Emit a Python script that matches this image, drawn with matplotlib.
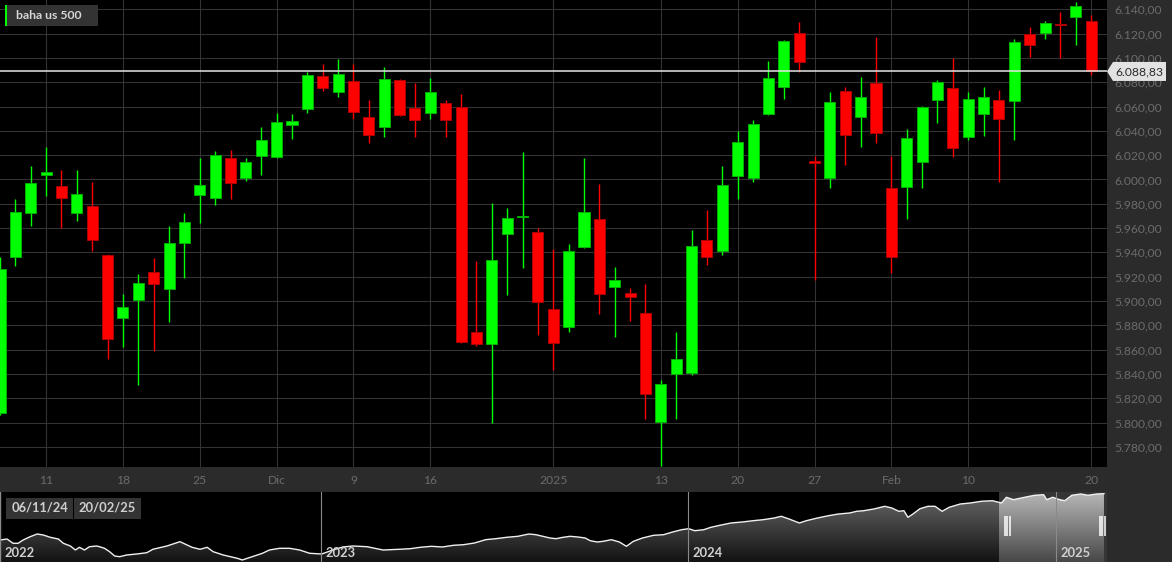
import matplotlib
matplotlib.use("Agg")
import matplotlib.pyplot as plt
import matplotlib.dates as mdates
import matplotlib.transforms as mtransforms
from matplotlib.patches import Rectangle, Polygon
from matplotlib.colors import LinearSegmentedColormap
from matplotlib.ticker import FuncFormatter
import numpy as np
import pandas as pd

plt.rcParams['font.family'] = ['Lato', 'DejaVu Sans']

# ---------------- data ----------------
title = "baha us 500"
opens = [5808, 5936.5, 5972, 6004, 5995, 5972, 5978.5, 5938, 5886, 5901, 5924, 5910, 5948, 5987,
         5984.5, 6017.7, 6001.5, 6019.3, 6018.5, 6045, 6058, 6085.4, 6072.2, 6080.8, 6051.4, 6043.2,
         6081.8, 6058.6, 6055, 6062.7, 6059.4, 5874.3, 5864.5, 5954.9, 5968.8, 5956.6, 5893.5, 5879,
         5944.7, 5967.5, 5911.8, 5906.6, 5890.2, 5800.6, 5840, 5841.1, 5950.5, 5941.2, 6003.1, 6001.2,
         6054.1, 6076.3, 6120.3, 6015, 6001, 6073, 6051.7, 6079.4, 5992.8, 5994.1, 6014.2, 6065.6,
         6075.3, 6035, 6054.1, 6065.6, 6064.8, 6119.9, 6120.5, 6127.5, 6133.4, 6130.6]
highs = [5936, 5984, 6011, 6027, 6008, 6008, 5998, 5939, 5906, 5922, 5935, 5961.5, 5972, 6018,
         6023.5, 6024.3, 6017.4, 6042.9, 6054.5, 6053.6, 6088, 6095, 6099, 6094.8, 6065.4, 6092.3,
         6082.5, 6079.1, 6083.2, 6065.4, 6070.1, 5933, 5980.4, 5976.3, 6022.4, 5959.9, 5942.6, 5947,
         6017.4, 5996.3, 5927.8, 5910.5, 5913.8, 5835.1, 5874.3, 5958.5, 5974.7, 6011.4, 6039.9, 6049,
         6097.5, 6114.7, 6129.3, 6019.6, 6071.7, 6075.8, 6084.1, 6117, 6019.6, 6041.3, 6060.5, 6081.8,
         6100.2, 6071.7, 6075.8, 6073.6, 6115.3, 6125.2, 6130.6, 6137.5, 6145.8, 6135.3]
lows = [5806, 5929, 5962, 5986, 5960, 5966, 5941, 5852, 5862, 5831, 5859, 5883, 5919, 5964,
        5979, 5983.7, 5999, 6003.5, 6018, 6033.6, 6055, 6073, 6067.6, 6049.5, 6029.8, 6035.2,
        6052.5, 6034.7, 6049.5, 6034.7, 5865.5, 5863.3, 5800, 5904.8, 5927, 5871.9, 5843, 5874.8,
        5943.4, 5889.1, 5870.7, 5883.9, 5803.3, 5764.4, 5802.8, 5839, 5929.7, 5937.9, 5983.7, 5998.2,
        6053.1, 6066, 6088.7, 5917.4, 5992.8, 6011.9, 6027, 6029.8, 5923.4, 5967.3, 5992.8, 6046.2,
        6018.8, 6032.5, 6036, 5998.2, 6032.5, 6100.5, 6115.3, 6099.7, 6110.6, 6086]
closes = [5926, 5973, 5997, 6006, 5985, 5988, 5950, 5869, 5895, 5915, 5914, 5947.5, 5965, 5995.5,
          6020, 5997.4, 6014.7, 6032.5, 6047.3, 6048, 6085.7, 6075.5, 6086.8, 6055.8, 6036.4, 6082.7,
          6053.1, 6048.7, 6072.2, 6049, 5866.1, 5865, 5933.8, 5968.3, 5969.5, 5899, 5865.8, 5941,
          5973, 5906.1, 5917.4, 5903.1, 5823.8, 5831.8, 5852.4, 5945.3, 5936, 5995.5, 6031.1, 6045.4,
          6083.5, 6113.7, 6096.9, 6013.5, 6063.5, 6036.6, 6068.1, 6038.5, 5936, 6034.4, 6059.4, 6080,
          6026.2, 6066.2, 6067.9, 6050, 6112.9, 6110.9, 6129, 6126.8, 6143, 6088.83]
last_price = 6088.83

x_tick_idx = [3, 8, 13, 18, 23, 28, 36, 43, 48, 53, 58, 63, 71]
x_tick_labels = ['11', '18', '25', 'Dic', '9', '16', '2025', '13', '20', '27', 'Feb', '10', '20']

# navigator (overview) series: days since nav_start, approx index level
nav_start = '2022-02-16'
nav_days = [0, 7, 13, 18, 23, 30, 37, 43, 50, 58, 63, 70, 75, 79, 84, 89, 96, 99, 104, 109,
            114, 119, 126, 136, 146, 152, 159, 166, 172, 179, 184, 191, 199, 206, 212, 222, 229, 236, 241, 251,
            261, 268, 278, 288, 298, 308, 320, 331, 341, 351, 365, 381, 397, 408, 418, 429, 440, 451, 461, 472,
            483, 493, 504, 515, 526, 533, 543, 547, 553, 560, 567, 575, 582, 587, 594, 600, 608, 616, 623, 630,
            639, 650, 660, 669, 678, 685, 691, 700, 707, 716, 727, 738, 749, 759, 770, 777, 784, 795, 802, 813,
            824, 834, 845, 852, 859, 869, 880, 887, 894, 899, 903, 908, 915, 923, 930, 937, 944, 955, 965, 976,
            987, 996, 1001, 1008, 1019, 1029, 1038, 1041, 1047, 1054, 1059, 1066, 1075, 1082, 1091, 1098]
nav_vals = [4347, 4385, 4220, 4220, 4347, 4474, 4578, 4540, 4451, 4385, 4220, 4116, 3962, 4066, 3962, 4089, 4116, 4089, 4027, 3897,
            3731, 3704, 3770, 3808, 3858, 3989, 4051, 4116, 4193, 4282, 4193, 4066, 3989, 4066, 3897, 3770, 3704, 3642, 3577, 3704,
            3835, 3962, 4027, 4027, 3962, 3835, 3808, 3962, 4078, 4116, 4089, 3962, 3989, 4012, 4066, 4104, 4078, 4143, 4166, 4232,
            4359, 4397, 4451, 4489, 4578, 4551, 4462, 4424, 4397, 4451, 4489, 4462, 4424, 4320, 4270, 4297, 4359, 4270, 4104, 4297,
            4424, 4528, 4551, 4655, 4744, 4782, 4705, 4744, 4836, 4913, 5002, 5040, 5090, 5129, 5194, 5259, 5167, 5002, 5090, 5194,
            5283, 5348, 5387, 5452, 5475, 5540, 5644, 5579, 5452, 5475, 5221, 5348, 5552, 5644, 5644, 5452, 5606, 5733, 5772, 5837,
            5860, 5772, 5991, 5899, 5991, 6068, 6091, 5899, 5991, 5899, 5860, 6068, 6118, 6068, 6118, 6130]
nav_end = '2025-02-20'
nav_years = ['2023', '2024', '2025']
sel_from_label = '06/11/24'
sel_to_label = '20/02/25'
sel_from = '2024-11-06'

# ---------------- figure ----------------
W, H = 1172, 562
PANEL = '#2b2b2b'
fig = plt.figure(figsize=(W / 100, H / 100), dpi=100)
fig.patch.set_facecolor(PANEL)

def fbox(x, y_top, w, h):
    """pixel box (from top-left) -> figure fraction rect"""
    return [x / W, 1 - (y_top + h) / H, w / W, h / H]

PLOT_W = 1107
ax = fig.add_axes(fbox(0, 0, PLOT_W, 467))
ax.set_facecolor('black')
for s in ax.spines.values():
    s.set_visible(False)

o = np.array(opens); c = np.array(closes); hi = np.array(highs); lo = np.array(lows)
idx = np.arange(len(o))
up = c >= o
fill = np.where(up, '#00ff00', '#ff0000')
edge = np.where(up, '#00b000', '#b00000')
body_lo = np.minimum(o, c)
body_h = np.maximum(np.abs(c - o), 0.9)

ax.vlines(idx, lo, hi, colors=fill, lw=1.0, zorder=3)
ax.bar(idx, body_h, bottom=body_lo, width=0.72, color=fill, edgecolor=edge, linewidth=0.7, zorder=4)

ax.set_xlim(0.0, 72.03)
ax.set_ylim(5763.5, 6147.6)

ax.set_yticks(np.arange(5780, 6141, 20))
def eu(v, pos=None):
    s = f"{v:,.2f}"
    return s.replace(',', 'X').replace('.', ',').replace('X', '.')
ax.yaxis.set_major_formatter(FuncFormatter(eu))
ax.yaxis.set_ticks_position('right')
ax.tick_params(axis='y', length=0, pad=5, labelcolor='#6b6b6b', labelsize=8.7)

ax.set_xticks(x_tick_idx)
ax.set_xticklabels(x_tick_labels)
ax.tick_params(axis='x', length=0, pad=5.5, labelcolor='#6b6b6b', labelsize=8.7)
ax.grid(True, color='#333333', lw=0.8, zorder=0)
ax.set_axisbelow(True)

# current price line
ax.axhline(last_price, color='#e6e6e6', lw=1.1, zorder=5)

# current price tag
yd = ax.transData.transform((0, last_price))[1]
yt = H - yd
pts = [(1107, yt), (1113, yt - 9.5), (1166, yt - 9.5), (1166, yt + 9.5), (1113, yt + 9.5)]
pts = [(x / W, 1 - y / H) for x, y in pts]
fig.add_artist(Polygon(pts, closed=True, transform=fig.transFigure, facecolor='#e2e2e2',
                       edgecolor='none', zorder=10))
fig.text(1139.5 / W, 1 - yt / H, eu(last_price), ha='center', va='center', color='#2a2a2a',
         fontsize=8.7, zorder=11)

# legend box
fig.add_artist(Rectangle((5 / W, 1 - 26 / H), 93 / W, 21 / H, transform=fig.transFigure,
                         facecolor='#333333', edgecolor='none', zorder=10))
fig.add_artist(Rectangle((5 / W, 1 - 26 / H), 2.2 / W, 21 / H, transform=fig.transFigure,
                         facecolor='#00ff00', edgecolor='none', zorder=11))
fig.text(16 / W, 1 - 15.5 / H, title, ha='left', va='center', color='#d6d6d6',
         fontsize=8.8, fontweight='bold', zorder=12)

# ---------------- navigator ----------------
nav = fig.add_axes(fbox(0, 492, PLOT_W, 70))
nav.set_facecolor('black')
for s in nav.spines.values():
    s.set_visible(False)
nav.set_xticks([]); nav.set_yticks([])

t0 = mdates.date2num(pd.Timestamp(nav_start))
nx = t0 + np.array(nav_days, dtype=float)
ny = np.array(nav_vals, dtype=float)
x_end = mdates.date2num(pd.Timestamp(nav_end)) + 1
nav.set_xlim(t0, x_end)
ylo, yhi = 3500, 6195
nav.set_ylim(ylo, yhi)

xs_sel = mdates.date2num(pd.Timestamp(sel_from))
nav.add_patch(Rectangle((xs_sel, ylo), x_end - xs_sel, yhi - ylo, facecolor='#353535',
                        edgecolor='none', zorder=0.5))

area = nav.fill_between(nx, ny, ylo, facecolor='none', edgecolor='none')
clip_path = area.get_paths()[0]
grad = np.linspace(1, 0, 256).reshape(-1, 1)
cm_dark = LinearSegmentedColormap.from_list('nd', ['#121212', '#6a6a6a'])
cm_light = LinearSegmentedColormap.from_list('nl', ['#474747', '#b8b8b8'])
im1 = nav.imshow(grad, extent=[t0, x_end, ylo, yhi], aspect='auto', cmap=cm_dark,
                 vmin=0, vmax=1, zorder=1, interpolation='bilinear')
im1.set_clip_path(clip_path, transform=nav.transData)
im2 = nav.imshow(grad, extent=[xs_sel, x_end, ylo, yhi], aspect='auto', cmap=cm_light,
                 vmin=0, vmax=1, zorder=1.5, interpolation='bilinear')
im2.set_clip_path(clip_path, transform=nav.transData)
nav.set_xlim(t0, x_end)
nav.set_ylim(ylo, yhi)

nav.plot(nx, ny, color='#f0f0f0', lw=1.0, zorder=3)

bt = mtransforms.blended_transform_factory(nav.transData, nav.transAxes)
nav.axvline(t0, color='#8a8a8a', lw=1.0, zorder=4)
nav.text(4 / PLOT_W, 0.07, '2022', transform=nav.transAxes, ha='left', va='baseline',
         color='#d0d0d0', fontsize=9.3, fontweight='bold', zorder=6)
for yr in nav_years:
    xv = mdates.date2num(pd.Timestamp(f'{yr}-01-01'))
    nav.axvline(xv, color='#8a8a8a', lw=0.8, zorder=4)
    nav.text(xv + 5, 0.07, yr, transform=bt, ha='left', va='baseline',
             color='#d0d0d0', fontsize=9.3, fontweight='bold', zorder=6)

# handles
for base, offs in ((xs_sel, (5.5, 8.0, 10.5)), (x_end, (-7.0, -4.5, -2.0))):
    for d in offs:
        nav.plot([base + d, base + d], [0.37, 0.66], transform=bt, color='white', lw=1.1,
                 zorder=7, solid_capstyle='butt')

# date boxes
for (bx, bw, lab) in ((6, 67, sel_from_label), (74, 67, sel_to_label)):
    fig.add_artist(Rectangle((bx / W, 1 - 518.5 / H), bw / W, 21 / H, transform=fig.transFigure,
                             facecolor='#333333', edgecolor='none', zorder=10))
    fig.text((bx + bw / 2) / W, 1 - 508 / H, lab, ha='center', va='center', color='#cfcfcf',
             fontsize=9.3, fontweight='bold', zorder=11)

fig.savefig('out.png', dpi=100, facecolor=fig.get_facecolor())
